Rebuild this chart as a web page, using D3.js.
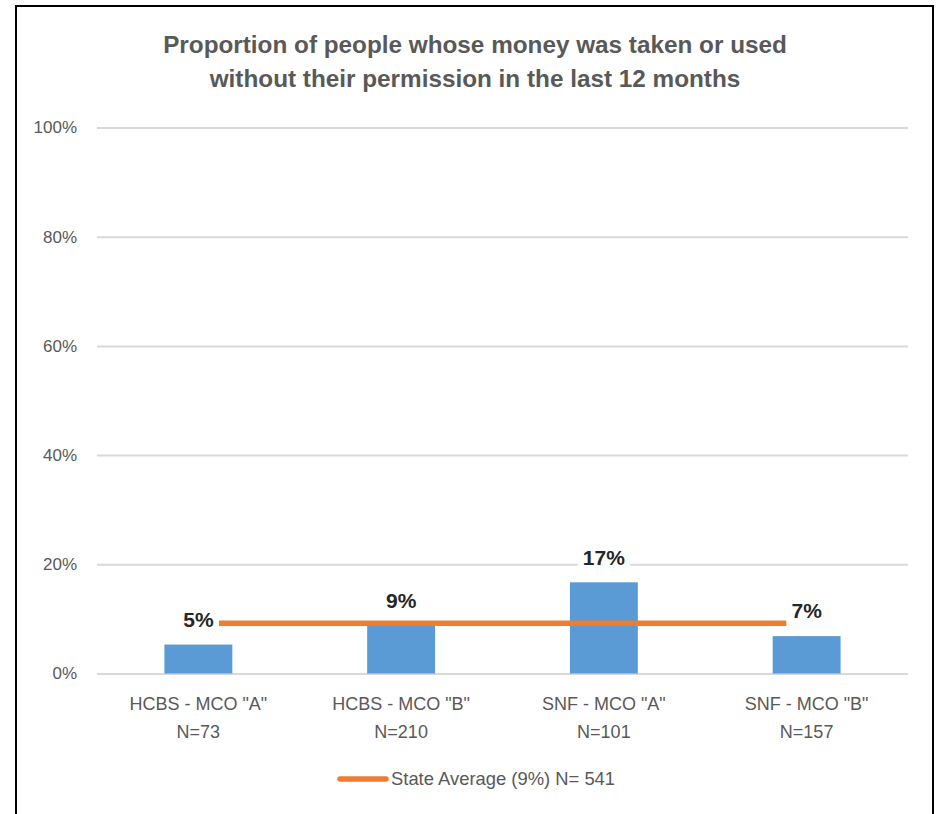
<!DOCTYPE html>
<html><head><meta charset="utf-8">
<script src="https://cdn.jsdelivr.net/npm/d3@7"></script>
<style>
html,body{margin:0;padding:0;background:#fff;}
svg{display:block;}
</style></head>
<body>
<svg id="chart" width="939" height="814"></svg>
<script>
const titleLines = ["Proportion of people whose money was taken or used", "without their permission in the last 12 months"];
const categories = ['HCBS - MCO "A"', 'HCBS - MCO "B"', 'SNF - MCO "A"', 'SNF - MCO "B"'];
const sampleSizes = ["N=73", "N=210", "N=101", "N=157"];
const values = [5.3, 8.7, 16.7, 6.85];
const valueLabels = ["5%", "9%", "17%", "7%"];
const stateAverage = 9.2;
const stateLineSpan = [0.1, 2.9]; // in category-index units
const legendLabel = "State Average (9%) N= 541";
const yTicks = [0, 20, 40, 60, 80, 100];

const FONT = "'Liberation Sans', Arial, sans-serif";
const svg = d3.select("#chart");
const W = 939, H = 814;
svg.append("rect").attr("width", W).attr("height", H).attr("fill", "#fff");
// frame
svg.append("rect").attr("x", 16).attr("y", 6).attr("width", 917).attr("height", 830)
  .attr("fill", "none").attr("stroke", "#000").attr("stroke-width", 2);

const plot = {left: 97, right: 908, top: 127.5, bottom: 673.5};
const x = d3.scaleBand().domain(categories).range([plot.left, plot.right])
  .paddingInner(0.665).paddingOuter(0.3325);
const xIdx = d3.scaleLinear().domain([0, categories.length - 1])
  .range([x(categories[0]) + x.bandwidth()/2, x(categories[categories.length-1]) + x.bandwidth()/2]);
const y = d3.scaleLinear().domain([0, 100]).range([plot.bottom, plot.top]);

// title
const title = svg.append("text").attr("x", 475).attr("text-anchor", "middle")
  .attr("font-family", FONT).attr("font-weight", "bold").attr("font-size", 24.3).attr("fill", "#595959");
titleLines.forEach((t, i) => title.append("tspan").attr("x", 475).attr("y", 53 + i*34).text(t));

// grid
const yAxis = d3.axisLeft(y).tickValues(yTicks).tickFormat(d => d + "%")
  .tickSize(-(plot.right - plot.left)).tickPadding(20);
const gy = svg.append("g").attr("transform", `translate(${plot.left},0)`).call(yAxis);
gy.select(".domain").remove();
gy.selectAll(".tick line").attr("stroke", "#d9d9d9").attr("stroke-width", 2);
gy.selectAll(".tick text").attr("font-family", FONT).attr("font-size", 17).attr("fill", "#595959");

// bars
svg.append("g").selectAll("rect").data(values).join("rect")
  .attr("x", (d, i) => x(categories[i]))
  .attr("y", d => y(d))
  .attr("width", x.bandwidth())
  .attr("height", d => y(0) - y(d))
  .attr("fill", "#5b9bd5");

// state average line
svg.append("line")
  .attr("x1", xIdx(stateLineSpan[0])).attr("x2", xIdx(stateLineSpan[1]))
  .attr("y1", y(stateAverage)).attr("y2", y(stateAverage))
  .attr("stroke", "#ed7d31").attr("stroke-width", 5.5);

// data labels
const lbl = svg.append("g").selectAll("g").data(values).join("g")
  .attr("transform", (d, i) => `translate(${x(categories[i]) + x.bandwidth()/2},${y(d) - 25})`);
lbl.append("text").attr("text-anchor", "middle").attr("dy", "0.35em")
  .attr("font-family", FONT).attr("font-weight", "bold").attr("font-size", 21).attr("fill", "#262626")
  .text((d, i) => valueLabels[i]);
lbl.each(function() {
  const g = d3.select(this), bb = g.select("text").node().getBBox();
  g.insert("rect", "text").attr("x", bb.x - 5).attr("y", bb.y).attr("width", bb.width + 10)
    .attr("height", bb.height).attr("fill", "#fff");
});

// category labels
const cl = svg.append("g").selectAll("text").data(categories).join("text")
  .attr("text-anchor", "middle").attr("font-family", FONT).attr("font-size", 18).attr("fill", "#595959");
cl.append("tspan").attr("x", d => x(d) + x.bandwidth()/2).attr("y", 710).text(d => d);
cl.append("tspan").attr("x", d => x(d) + x.bandwidth()/2).attr("y", 738).text((d, i) => sampleSizes[i]);

// legend
svg.append("line").attr("x1", 340).attr("x2", 386).attr("y1", 779).attr("y2", 779)
  .attr("stroke", "#ed7d31").attr("stroke-width", 5.5).attr("stroke-linecap", "round");
svg.append("text").attr("x", 391).attr("y", 785).attr("font-family", FONT).attr("font-size", 18.4)
  .attr("fill", "#595959").text(legendLabel);
</script>
</body></html>
